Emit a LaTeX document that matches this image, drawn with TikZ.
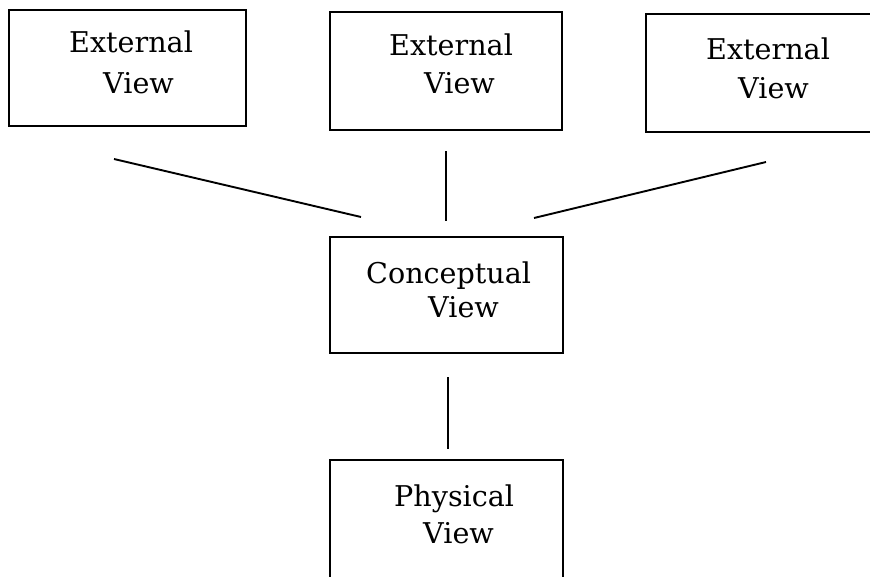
\documentclass[tikz,border=0pt]{standalone}
\usepackage{fontspec}
\setmainfont{DejaVu Serif}
\begin{document}
\begin{tikzpicture}[x=1pt,y=-1pt,
  box/.style={draw=black,line width=2pt,rectangle,inner sep=0pt,fill=none},
  lbl/.style={anchor=base west,inner sep=0pt,font=\fontsize{28.6}{31}\selectfont},
  conn/.style={draw=black,line width=1.9pt}]
\useasboundingbox (0,0) rectangle (870,576);
\clip (0,0) rectangle (870,576);
% boxes
\node[box,minimum width=237pt,minimum height=116pt] (ext1) at (127.5,68) {};
\node[box,minimum width=232pt,minimum height=118pt] (ext2) at (446,71) {};
\node[box,minimum width=254pt,minimum height=118pt] (ext3) at (773,73) {};
\node[box,minimum width=233pt,minimum height=116pt] (conc) at (446.5,295) {};
\node[box,minimum width=233pt,minimum height=140pt] (phys) at (446.5,530) {};
% labels
\node[lbl] (t1a) at (69,52) {External};
\node[lbl] (t1b) at (103,93) {View};
\node[lbl] (t2a) at (389,55) {External};
\node[lbl] (t2b) at (424,93) {View};
\node[lbl] (t3a) at (706,59) {External};
\node[lbl] (t3b) at (738,98) {View};
\node[lbl] (t4a) at (366,283) {Conceptual};
\node[lbl] (t4b) at (428,317) {View};
\node[lbl] (t5a) at (394,506) {Physical};
\node[lbl] (t5b) at (423,543) {View};
% connector ends
\coordinate (a1) at (114,159);
\coordinate (b1) at (361,217);
\coordinate (a2) at (446,151);
\coordinate (b2) at (446,221);
\coordinate (a3) at (766,162);
\coordinate (b3) at (534,218);
\coordinate (a4) at (448,377);
\coordinate (b4) at (448,449);
\draw[conn] (a1) -- (b1);
\draw[conn] (a2) -- (b2);
\draw[conn] (a3) -- (b3);
\draw[conn] (a4) -- (b4);
\end{tikzpicture}
\end{document}
